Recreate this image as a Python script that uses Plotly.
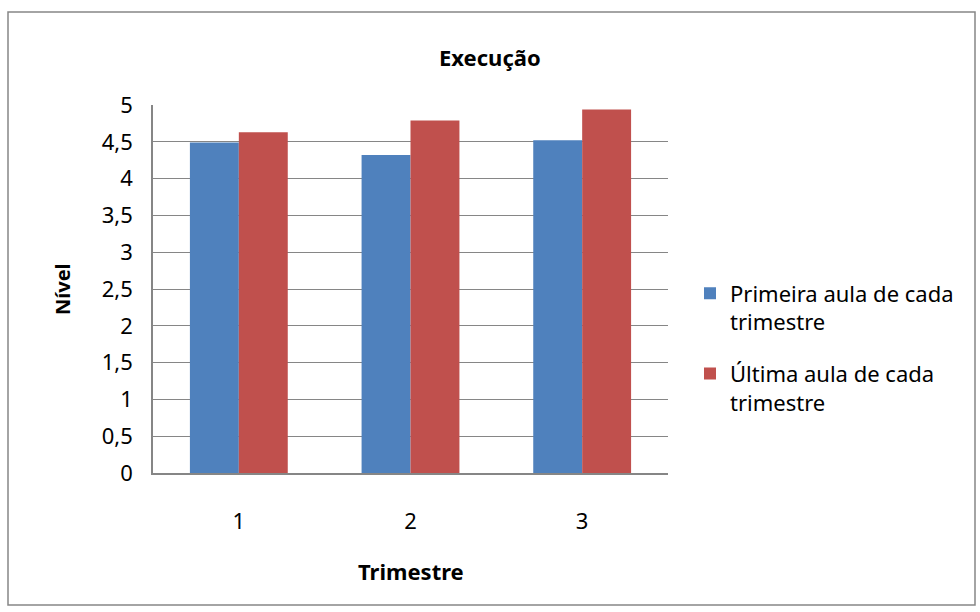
import plotly.graph_objects as go

# Trimestres e níveis médios por série
trimestres = ["1", "2", "3"]
primeira_aula = [4.49, 4.32, 4.52]
ultima_aula = [4.63, 4.79, 4.94]
nomes = ["Primeira aula de cada<br>trimestre", "Última aula de cada<br>trimestre"]
y_ticks = [0, 0.5, 1, 1.5, 2, 2.5, 3, 3.5, 4, 4.5, 5]

FONT = "Noto Sans"
GRID = "#868686"

W, H = 980, 612
L, R, T, B = 153, 312, 105, 139
pw, ph = W - L - R, H - T - B


def px_x(x):
    return (x - L) / pw


def px_y(y):
    return (H - B - y) / ph


fig = go.Figure()
fig.add_trace(go.Bar(x=trimestres, y=primeira_aula, name=nomes[0], marker_color="#4F81BD",
                     marker_line_width=0, legendgroup="a"))
fig.add_trace(go.Bar(x=trimestres, y=ultima_aula, name=nomes[1], marker_color="#C0504D",
                     marker_line_width=0, legendgroup="b"))

fig.update_layout(
    width=W, height=H,
    margin=dict(l=L, r=R, t=T, b=B, pad=0, autoexpand=False),
    paper_bgcolor="white", plot_bgcolor="white",
    separators=", ",
    barmode="group", bargap=0.43, bargroupgap=0,
    font=dict(family=FONT, size=22, color="black"),
    showlegend=True,
    legend=dict(x=px_x(690), y=px_y(348), xanchor="left", yanchor="middle",
                font=dict(size=22), tracegroupgap=20, itemwidth=30, valign="top",
                bgcolor="rgba(0,0,0,0)"),
    xaxis=dict(showgrid=False, showline=True, linecolor=GRID, linewidth=1.5,
               ticks="", tickfont=dict(size=22), ticklabelstandoff=28, automargin=False),
    yaxis=dict(range=[0, 5], tickvals=y_ticks, showgrid=True, gridcolor=GRID, gridwidth=1.2,
               showline=True, linecolor=GRID, linewidth=1.5, ticks="", zeroline=False,
               tickfont=dict(size=22), ticklabelstandoff=14, automargin=False),
    annotations=[
        dict(text="<b>Execução</b>", x=px_x(490), y=px_y(57), xref="paper", yref="paper",
             showarrow=False, font=dict(size=22), xanchor="center", yanchor="middle"),
        dict(text="<b>Nível</b>", x=px_x(62), y=px_y(289), xref="paper", yref="paper",
             showarrow=False, font=dict(size=20), textangle=-90,
             xanchor="center", yanchor="middle"),
        dict(text="<b>Trimestre</b>", x=px_x(411), y=px_y(571), xref="paper", yref="paper",
             showarrow=False, font=dict(size=22), xanchor="center", yanchor="middle"),
    ],
    shapes=[
        dict(type="rect", xref="paper", yref="paper",
             x0=px_x(8), x1=px_x(975), y0=px_y(605), y1=px_y(12),
             line=dict(color=GRID, width=1.5), fillcolor="rgba(0,0,0,0)", layer="below"),
    ],
)

fig.write_html("out.html")
